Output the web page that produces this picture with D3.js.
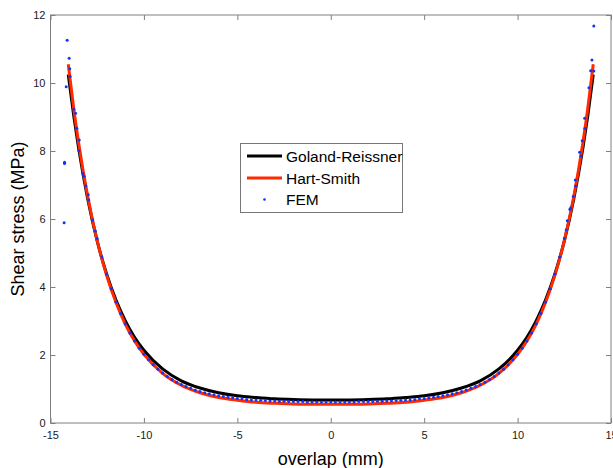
<!DOCTYPE html>
<html><head><meta charset="utf-8">
<script src="https://cdn.jsdelivr.net/npm/d3@7"></script>
<style>
body{margin:0;background:#fff}
svg{display:block}
text{font-family:"Liberation Sans",Arial,Helvetica,sans-serif}
</style>
</head><body>
<svg id="c" width="613" height="468"></svg>
<script>
const xTicks=[-15,-10,-5,0,5,10,15];
const yTicks=[0,2,4,6,8,10,12];
const seriesNames=["Goland-Reissner","Hart-Smith","FEM"];
const seriesColors=["#000000","#ff2a00","#1034ff"];
const xLabel="overlap (mm)";
const yLabel="Shear stress (MPa)";

const curveX=[-14.05,-13.75,-13.5,-13,-12.5,-12,-11.5,-11,-10.5,-10,-9,-8,-7,-6,-5,-4,-3,-2,-1,0,1,2,3,4,5,6,7,8,9,10,10.5,11,11.5,12,12.5,13,13.5,13.75,14.05];
const golandY=[10.25,9.01,8.10,6.57,5.35,4.39,3.62,3.01,2.52,2.14,1.59,1.24,1.03,0.89,0.80,0.75,0.71,0.69,0.68,0.68,0.68,0.69,0.71,0.75,0.80,0.89,1.03,1.24,1.59,2.14,2.52,3.01,3.62,4.39,5.35,6.57,8.10,9.01,10.25];
const hartY=[10.55,9.22,8.26,6.64,5.36,4.35,3.55,2.91,2.41,2.02,1.46,1.11,0.89,0.75,0.67,0.61,0.58,0.56,0.55,0.55,0.55,0.56,0.58,0.61,0.67,0.75,0.89,1.11,1.46,2.02,2.41,2.91,3.55,4.35,5.36,6.64,8.26,9.22,10.55];

const femX=[-14.27,-14.25,-14.25,-14.16,-14.11,-14.0,-13.97,-13.95,-13.75,-13.66,-13.59,-13.48,-13.46,-13.27,-13.2,-13.11,-12.98,-12.95,-12.74,-12.6,
-12.5,-12.25,-12,-11.75,-11.5,-11.25,-11,-10.75,-10.5,-10.25,-10,-9.75,-9.5,-9.25,-9,-8.75,-8.5,-8.25,-8,-7.75,-7.5,-7.25,-7,-6.75,-6.5,-6.25,-6,-5.75,-5.5,-5.25,-5,-4.75,-4.5,-4.25,-4,-3.75,-3.5,-3.25,-3,-2.75,-2.5,-2.25,-2,-1.75,-1.5,-1.25,-1,-0.75,-0.5,-0.25,
0,
0.25,0.5,0.75,1,1.25,1.5,1.75,2,2.25,2.5,2.75,3,3.25,3.5,3.75,4,4.25,4.5,4.75,5,5.25,5.5,5.75,6,6.25,6.5,6.75,7,7.25,7.5,7.75,8,8.25,8.5,8.75,9,9.25,9.5,9.75,10,10.25,10.5,10.75,11,11.25,11.5,11.75,12,12.25,12.5,
12.6,12.66,12.8,12.85,12.98,13.09,13.1,13.32,13.39,13.46,13.59,13.6,13.82,13.91,13.98,14.08,14.08];
const femY=[5.89,7.63,7.67,9.89,11.26,10.73,10.42,10.19,9.23,9.11,8.67,8.01,8.32,7.34,7.26,6.98,6.71,6.56,5.97,5.65,
5.43,4.88,4.38,3.95,3.56,3.22,2.92,2.65,2.41,2.20,2.02,1.86,1.71,1.58,1.47,1.37,1.28,1.20,1.13,1.07,1.02,0.97,0.93,0.89,0.86,0.83,0.80,0.78,0.76,0.74,0.72,0.71,0.69,0.68,0.68,0.67,0.66,0.65,0.65,0.64,0.64,0.63,0.63,0.63,0.63,0.62,0.62,0.62,0.62,0.62,
0.62,
0.62,0.62,0.62,0.62,0.62,0.63,0.63,0.63,0.63,0.64,0.64,0.65,0.65,0.66,0.67,0.68,0.68,0.69,0.71,0.72,0.74,0.76,0.78,0.80,0.83,0.86,0.89,0.93,0.97,1.02,1.07,1.13,1.20,1.28,1.37,1.47,1.58,1.71,1.86,2.02,2.20,2.41,2.65,2.92,3.22,3.56,3.95,4.38,4.88,5.43,
5.68,5.95,6.29,6.33,6.66,7.15,6.97,7.96,7.85,8.30,8.96,8.66,9.86,10.36,10.68,10.35,11.68];

const svg=d3.select("#c");
const L=50.5,R=611,T=15,B=423;
const x=d3.scaleLinear().domain([-15,15]).range([L,R]);
const y=d3.scaleLinear().domain([0,12]).range([B,T]);
const axisCol="#808080";
const fmt=d=>String(d);

// frame
svg.append("rect").attr("x",L).attr("y",T).attr("width",R-L).attr("height",B-T)
  .attr("fill","none").attr("stroke",axisCol).attr("stroke-width",1);

function styleAxis(g,showText){
  g.select(".domain").remove();
  g.selectAll(".tick line").attr("stroke",axisCol);
  g.selectAll(".tick text").attr("fill","#1a1a1a").style("font-size","11px");
  if(!showText) g.selectAll(".tick text").remove();
}
svg.append("g").attr("transform",`translate(0,${B})`)
  .call(d3.axisBottom(x).tickValues(xTicks).tickFormat(fmt).tickSizeInner(-5).tickSizeOuter(0).tickPadding(8))
  .call(g=>styleAxis(g,true));
svg.append("g").attr("transform",`translate(0,${T})`)
  .call(d3.axisTop(x).tickValues(xTicks).tickSizeInner(-5).tickSizeOuter(0))
  .call(g=>styleAxis(g,false));
svg.append("g").attr("transform",`translate(${L},0)`)
  .call(d3.axisLeft(y).tickValues(yTicks).tickFormat(fmt).tickSizeInner(-5).tickSizeOuter(0).tickPadding(5))
  .call(g=>styleAxis(g,true));
svg.append("g").attr("transform",`translate(${R},0)`)
  .call(d3.axisRight(y).tickValues(yTicks).tickSizeInner(-5).tickSizeOuter(0))
  .call(g=>styleAxis(g,false));

// curves
const line=d3.line().x(d=>x(d[0])).y(d=>y(d[1])).curve(d3.curveMonotoneX);
svg.append("path").datum(d3.zip(curveX,golandY)).attr("d",line)
  .attr("fill","none").attr("stroke",seriesColors[0]).attr("stroke-width",3);
svg.append("path").datum(d3.zip(curveX,hartY)).attr("d",line)
  .attr("fill","none").attr("stroke",seriesColors[1]).attr("stroke-width",3);
svg.append("g").selectAll("circle").data(d3.zip(femX,femY)).join("circle")
  .attr("cx",d=>x(d[0])).attr("cy",d=>y(d[1])).attr("r",1.5).attr("fill",seriesColors[2]);

// legend
const lg=svg.append("g");
const lx=240.5,ly=143.5,lw=162,lh=69;
lg.append("rect").attr("x",lx).attr("y",ly).attr("width",lw).attr("height",lh)
  .attr("fill","#fff").attr("stroke","#777").attr("stroke-width",1);
const rowY=[156,178,199.5];
seriesNames.forEach((n,i)=>{
  if(i<2){
    lg.append("line").attr("x1",247).attr("x2",282).attr("y1",rowY[i]).attr("y2",rowY[i])
      .attr("stroke",seriesColors[i]).attr("stroke-width",3);
  } else {
    lg.append("circle").attr("cx",264.5).attr("cy",rowY[i]).attr("r",1.3).attr("fill",seriesColors[i]);
  }
  lg.append("text").attr("x",286).attr("y",rowY[i]).attr("dy","0.36em")
    .style("font-size","15.5px").attr("fill","#000").text(n);
});

// axis labels
svg.append("text").attr("x",(L+R)/2).attr("y",465).attr("text-anchor","middle")
  .style("font-size","18px").attr("fill","#000").text(xLabel);
svg.append("text").attr("transform",`translate(24,${(T+B)/2}) rotate(-90)`).attr("text-anchor","middle")
  .style("font-size","18px").attr("fill","#000").text(yLabel);
</script>
</body></html>
